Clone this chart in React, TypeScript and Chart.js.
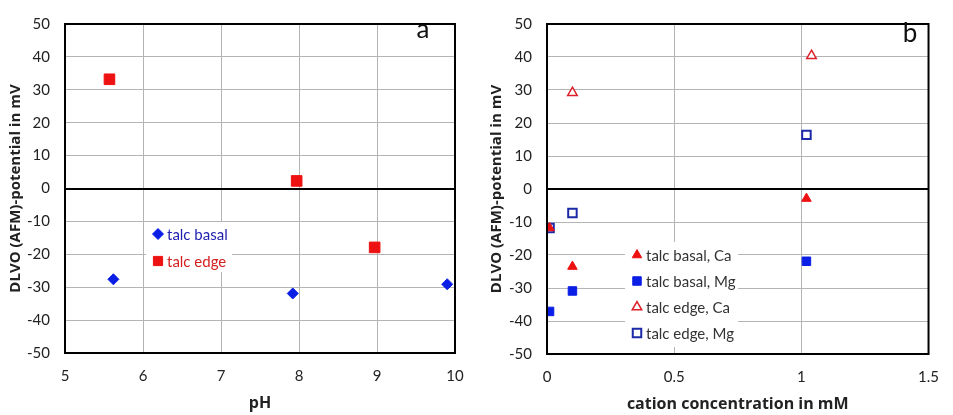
import React, { useEffect, useRef } from "react";
import { Chart, registerables } from "chart.js";
import { drawPoint } from "chart.js/helpers";

Chart.register(...registerables);

// ---------- Data: panel a ----------
const phBasal = [5.62, 7.92, 9.9];
const potBasal = [-27.6, -31.9, -29.1];
const phEdge = [5.57, 7.97, 8.97];
const potEdge = [33.2, 2.3, -17.9];
const labelsA = ["talc basal", "talc edge"];

// ---------- Data: panel b ----------
const concBasalCa = [0.01, 0.1, 1.02];
const potBasalCa = [-11.8, -23.5, -2.9];
const concBasalMg = [0.01, 0.1, 1.02];
const potBasalMg = [-37.1, -30.9, -21.9];
const concEdgeCa = [0.1, 1.04];
const potEdgeCa = [29.2, 40.4];
const concEdgeMg = [0.01, 0.1, 1.02];
const potEdgeMg = [-11.8, -7.3, 16.4];
const labelsB = ["talc basal, Ca", "talc basal, Mg", "talc edge, Ca", "talc edge, Mg"];

const yTitle = "DLVO (AFM)-potential in mV";
const xTitleA = "pH";
const xTitleB = "cation concentration in mM";

const FONT = "Lato, 'Open Sans', sans-serif";
const TFONT = "'Open Sans', Lato, sans-serif";
const RED = "#ee1111";
const BLUE = "#0a1ee6";
const DBLUE = "#1c2aa8";
const ORED = "#dd1f2a";

const pts = (xs: number[], ys: number[]) => xs.map((x, i) => ({ x, y: ys[i] }));

const framePlugin = {
  id: "frame",
  afterDatasetsDraw(chart: any, _args: any, opts: any) {
    const { ctx, chartArea: a } = chart;
    ctx.save();
    const lg = opts.legend;
    if (lg) {
      ctx.fillStyle = "#ffffff";
      ctx.fillRect(lg.box[0], lg.box[1], lg.box[2], lg.box[3]);
      ctx.font = `${lg.fontSize}px ${FONT}`;
      ctx.textBaseline = "middle";
      ctx.textAlign = "left";
      chart.data.datasets.forEach((ds: any, i: number) => {
        const y = lg.y + i * lg.step;
        ctx.fillStyle = ds.backgroundColor;
        ctx.strokeStyle = ds.borderColor;
        ctx.lineWidth = ds.borderWidth;
        drawPoint(ctx, { pointStyle: ds.pointStyle, rotation: 0, radius: ds.legendRadius ?? ds.pointRadius, borderWidth: ds.borderWidth }, lg.x, y);
        ctx.fillStyle = lg.textColors ? lg.textColors[i] : "#333";
        ctx.fillText(ds.label, lg.x + lg.textGap, y + 1);
      });
    }
    ctx.strokeStyle = "#000";
    ctx.lineWidth = 2;
    ctx.strokeRect(a.left, a.top, a.right - a.left, a.bottom - a.top);
    ctx.fillStyle = "#111";
    ctx.font = `26px ${FONT}`;
    ctx.textAlign = "center";
    ctx.textBaseline = "middle";
    ctx.fillText(opts.letter, opts.letterX, opts.letterY);
    ctx.restore();
  },
};

function makeConfig(p: any) {
  return {
    type: "scatter",
    data: { datasets: p.datasets },
    plugins: [framePlugin],
    options: {
      animation: false,
      responsive: false,
      events: [],
      layout: { padding: { left: 0, right: p.padRight, top: p.padTop, bottom: 0 } },
      plugins: {
        legend: { display: false },
        tooltip: { enabled: false },
        frame: p.frame,
      },
      scales: {
        x: {
          type: "linear",
          min: p.xMin,
          max: p.xMax,
          ticks: {
            stepSize: p.xStep,
            padding: p.xTickPad,
            color: "#222",
            font: { family: FONT, size: 15 },
            callback: (v: number) => String(Math.round(v * 10) / 10),
          },
          grid: { color: "#b4b4b4", lineWidth: 1, drawTicks: false },
          border: { display: false },
          title: {
            display: true,
            text: p.xTitle,
            color: "#222",
            font: { family: TFONT, size: 16, weight: "bold" },
            padding: { top: 0, bottom: p.xTitlePad },
          },
          afterFit: (s: any) => {
            s.height = p.xAxisH;
          },
        },
        y: {
          type: "linear",
          min: -50,
          max: 50,
          ticks: {
            stepSize: 10,
            padding: 15,
            color: "#222",
            font: { family: FONT, size: 15 },
          },
          grid: {
            color: (c: any) => (c.tick && c.tick.value === 0 ? "#000" : "#b4b4b4"),
            lineWidth: (c: any) => (c.tick && c.tick.value === 0 ? 2 : 1),
            drawTicks: false,
          },
          border: { display: false },
          title: {
            display: true,
            text: yTitle,
            color: "#222",
            font: { family: TFONT, size: 15, weight: "bold" },
            padding: { top: p.yTitlePad, bottom: 0 },
          },
          afterFit: (s: any) => {
            s.width = p.yAxisW;
          },
        },
      },
    },
  };
}

function ChartCanvas({ cfg, width, height }: { cfg: any; width: number; height: number }) {
  const ref = useRef<HTMLCanvasElement>(null);
  useEffect(() => {
    const chart = new Chart(ref.current as HTMLCanvasElement, cfg);
    return () => chart.destroy();
  }, []);
  return <canvas ref={ref} width={width} height={height} style={{ width, height, display: "block" }} />;
}

const cfgA = makeConfig({
  datasets: [
    {
      label: labelsA[0],
      data: pts(phBasal, potBasal),
      pointStyle: "rectRot",
      pointRadius: 5.5,
      backgroundColor: BLUE,
      borderColor: BLUE,
      borderWidth: 1,
    },
    {
      label: labelsA[1],
      data: pts(phEdge, potEdge),
      pointStyle: "rect",
      pointRadius: 7.5,
      legendRadius: 6.5,
      backgroundColor: RED,
      borderColor: RED,
      borderWidth: 1,
    },
  ],
  padRight: 25,
  padTop: 15,
  xMin: 5,
  xMax: 10,
  xStep: 1,
  xTickPad: 14,
  xTitle: xTitleA,
  xTitlePad: 2,
  xAxisH: 62,
  yAxisW: 65,
  yTitlePad: 7,
  frame: {
    letter: "a",
    letterX: 423,
    letterY: 30,
    legend: {
      box: [146, 222, 86, 50],
      x: 158,
      y: 234,
      step: 27,
      textGap: 9,
      fontSize: 15,
      textColors: ["#2222b0", "#d42020"],
    },
  },
});

const cfgB = makeConfig({
  datasets: [
    {
      label: labelsB[0],
      data: pts(concBasalCa, potBasalCa),
      pointStyle: "triangle",
      pointRadius: 5.5,
      backgroundColor: RED,
      borderColor: RED,
      borderWidth: 1,
    },
    {
      label: labelsB[1],
      data: pts(concBasalMg, potBasalMg),
      pointStyle: "rect",
      pointRadius: 6,
      backgroundColor: BLUE,
      borderColor: BLUE,
      borderWidth: 1,
    },
    {
      label: labelsB[2],
      data: pts(concEdgeCa, potEdgeCa),
      pointStyle: "triangle",
      pointRadius: 5.5,
      backgroundColor: "#ffffff",
      borderColor: ORED,
      borderWidth: 1.5,
    },
    {
      label: labelsB[3],
      data: pts(concEdgeMg, potEdgeMg),
      pointStyle: "rect",
      pointRadius: 6,
      backgroundColor: "#ffffff",
      borderColor: DBLUE,
      borderWidth: 2,
    },
  ],
  padRight: 17,
  padTop: 16,
  xMin: 0,
  xMax: 1.5,
  xStep: 0.5,
  xTickPad: 14,
  xTitle: xTitleB,
  xTitlePad: 1,
  xAxisH: 61,
  yAxisW: 67,
  yTitlePad: 8,
  frame: {
    letter: "b",
    letterX: 910 - 480,
    letterY: 34,
    legend: {
      box: [625 - 480, 242, 113, 105],
      x: 637 - 480,
      y: 255,
      step: 26,
      textGap: 9,
      fontSize: 15,
      textColors: ["#333", "#333", "#333", "#333"],
    },
  },
});

export default function App() {
  return (
    <div style={{ position: "fixed", left: 0, top: 0, width: 953, height: 415, background: "#fff", display: "flex" }}>
      <ChartCanvas cfg={cfgA} width={480} height={415} />
      <ChartCanvas cfg={cfgB} width={473} height={415} />
    </div>
  );
}
